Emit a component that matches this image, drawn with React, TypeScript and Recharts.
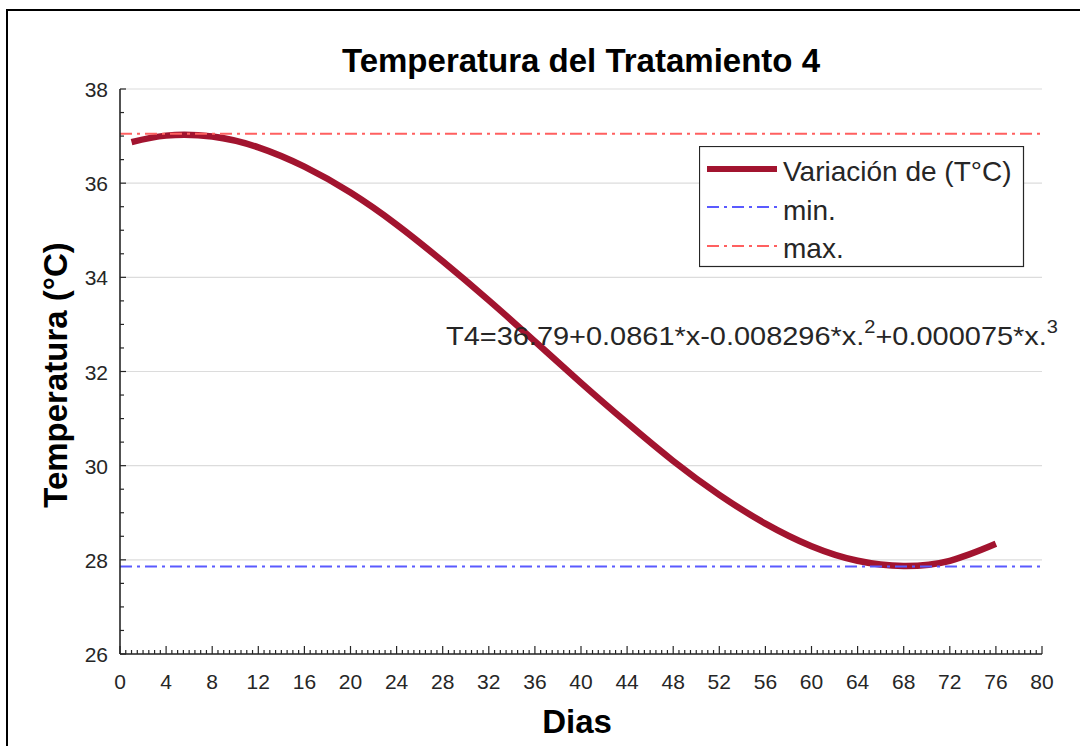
import React from 'react';
import { LineChart, Line, XAxis, YAxis, CartesianGrid, ReferenceLine, Legend } from 'recharts';

const TITLE = 'Temperatura del Tratamiento 4';
const X_LABEL = 'Dias';
const Y_LABEL = 'Temperatura (°C)';
const EQ_MAIN_1 = 'T4=36.79+0.0861*x-0.008296*x.';
const EQ_SUP_1 = '2';
const EQ_MAIN_2 = '+0.000075*x.';
const EQ_SUP_2 = '3';

const DAYS = [1, 4, 8, 12, 16, 20, 24, 28, 32, 36, 40, 44, 48, 52, 56, 60, 64, 68, 72, 76];
const TEMPS = [36.87, 37.01, 36.99, 36.76, 36.35, 35.8, 35.12, 34.34, 33.51, 32.64, 31.76, 30.91, 30.1, 29.38, 28.77, 28.29, 27.98, 27.87, 27.98, 28.34];
const T_MIN = 27.86;
const T_MAX = 37.05;

const X_MAJOR = [0, 4, 8, 12, 16, 20, 24, 28, 32, 36, 40, 44, 48, 52, 56, 60, 64, 68, 72, 76, 80];
const Y_MAJOR = [26, 28, 30, 32, 34, 36, 38];
const X_TICKS = Array.from({ length: 161 }, (_, i) => i * 0.5);
const Y_TICKS = Array.from({ length: 25 }, (_, i) => 26 + i * 0.5);

const LEGEND_LABELS = ['Variación de (T°C)', 'min.', 'max.'];

const CURVE_COLOR = '#a2142f';
const MIN_COLOR = '#5a5aff';
const MAX_COLOR = '#ff6060';
const AXIS_COLOR = '#262626';
const FONT = '"Liberation Sans", Arial, Helvetica, sans-serif';

const data = DAYS.map((d, i) => ({ day: d, temp: TEMPS[i] }));

const XTick = (props: any) => {
  const { x, y, payload } = props;
  const v = payload.value;
  const major = X_MAJOR.includes(v);
  return (
    <g>
      <line x1={x} x2={x} y1={y} y2={y - (major ? 8 : 4)} stroke={AXIS_COLOR} strokeWidth={1.2} />
      {major && (
        <text x={x} y={y + 35} textAnchor="middle" fontSize={21} fontFamily={FONT} fill={AXIS_COLOR}>
          {v}
        </text>
      )}
    </g>
  );
};

const YTick = (props: any) => {
  const { x, y, payload } = props;
  const v = payload.value;
  const major = Y_MAJOR.includes(v);
  return (
    <g>
      <line x1={x} x2={x + (major ? 6 : 4)} y1={y} y2={y} stroke={AXIS_COLOR} strokeWidth={1.2} />
      {major && (
        <text x={x - 12} y={y + 8} textAnchor="end" fontSize={21} fontFamily={FONT} fill={AXIS_COLOR}>
          {v}
        </text>
      )}
    </g>
  );
};

const renderLegend = () => (
  <svg width={326} height={122} style={{ display: 'block' }}>
    <rect x={0.5} y={0.5} width={324} height={120} fill="#fff" stroke={AXIS_COLOR} strokeWidth={1.2} />
    <line x1={8} x2={78} y1={23} y2={23} stroke={CURVE_COLOR} strokeWidth={6} />
    <text x={84} y={35} fontSize={28} fontFamily={FONT} fill={AXIS_COLOR}>{LEGEND_LABELS[0]}</text>
    <line x1={8} x2={78} y1={61} y2={61} stroke={MIN_COLOR} strokeWidth={2} strokeDasharray="12 5 3 5" />
    <text x={84} y={74} fontSize={28} fontFamily={FONT} fill={AXIS_COLOR}>{LEGEND_LABELS[1]}</text>
    <line x1={8} x2={78} y1={100} y2={100} stroke={MAX_COLOR} strokeWidth={2} strokeDasharray="12 5 3 5" />
    <text x={84} y={112} fontSize={28} fontFamily={FONT} fill={AXIS_COLOR}>{LEGEND_LABELS[2]}</text>
  </svg>
);

export default function App() {
  return (
    <div style={{ position: 'absolute', left: 0, top: 0, width: 1080, height: 746, overflow: 'hidden', background: '#fff' }}>
      <div
        style={{
          position: 'absolute',
          left: 6,
          top: 9,
          width: 1200,
          height: 900,
          borderLeft: '2px solid #000',
          borderTop: '2px solid #000',
          boxSizing: 'border-box',
        }}
      />
      <div style={{ position: 'absolute', left: 0, top: 0 }}>
        <LineChart width={1080} height={746} data={data} margin={{ top: 89, right: 38, bottom: 62, left: 60 }}>
          <CartesianGrid vertical={false} horizontalValues={Y_MAJOR} stroke="#dcdcdc" strokeWidth={1.2} />
          <XAxis
            dataKey="day"
            type="number"
            domain={[0, 80]}
            ticks={X_TICKS}
            interval={0}
            height={30}
            tickSize={0}
            tickMargin={0}
            tick={<XTick />}
            axisLine={{ stroke: AXIS_COLOR, strokeWidth: 1.6 }}
            tickLine={false}
          />
          <YAxis
            type="number"
            domain={[26, 38]}
            ticks={Y_TICKS}
            interval={0}
            width={60}
            tickSize={0}
            tickMargin={0}
            tick={<YTick />}
            axisLine={{ stroke: AXIS_COLOR, strokeWidth: 1.6 }}
            tickLine={false}
          />
          <Line
            type="natural"
            dataKey="temp"
            stroke={CURVE_COLOR}
            strokeWidth={6.5}
            dot={false}
            isAnimationActive={false}
          />
          <ReferenceLine y={T_MIN} stroke={MIN_COLOR} strokeWidth={2} strokeDasharray="12 5 3 5" />
          <ReferenceLine y={T_MAX} stroke={MAX_COLOR} strokeWidth={2} strokeDasharray="12 5 3 5" />
          <Legend
            layout="horizontal"
            verticalAlign="middle"
            align="center"
            content={renderLegend}
            wrapperStyle={{ position: 'absolute', left: 699, top: 146, width: 326, height: 122, bottom: 'auto', right: 'auto' }}
          />
        </LineChart>
      </div>
      <svg width={1080} height={746} style={{ position: 'absolute', left: 0, top: 0, pointerEvents: 'none' }}>
        <text x={581} y={72} textAnchor="middle" fontSize={33} fontWeight="bold" fontFamily={FONT} fill="#000">
          {TITLE}
        </text>
        <text x={577} y={733} textAnchor="middle" fontSize={33} fontWeight="bold" fontFamily={FONT} fill="#000">
          {X_LABEL}
        </text>
        <text
          transform="translate(67,375) rotate(-90)"
          x={0}
          y={0}
          textAnchor="middle"
          fontSize={33}
          fontWeight="bold"
          fontFamily={FONT}
          fill="#000"
        >
          {Y_LABEL}
        </text>
        <text x={446} y={345} fontSize={26} fontFamily={FONT} fill={AXIS_COLOR} textLength={612} lengthAdjust="spacingAndGlyphs">
          {EQ_MAIN_1}
          <tspan fontSize={18} dy={-12}>{EQ_SUP_1}</tspan>
          <tspan dy={12}>{EQ_MAIN_2}</tspan>
          <tspan fontSize={18} dy={-12}>{EQ_SUP_2}</tspan>
        </text>
      </svg>
    </div>
  );
}
